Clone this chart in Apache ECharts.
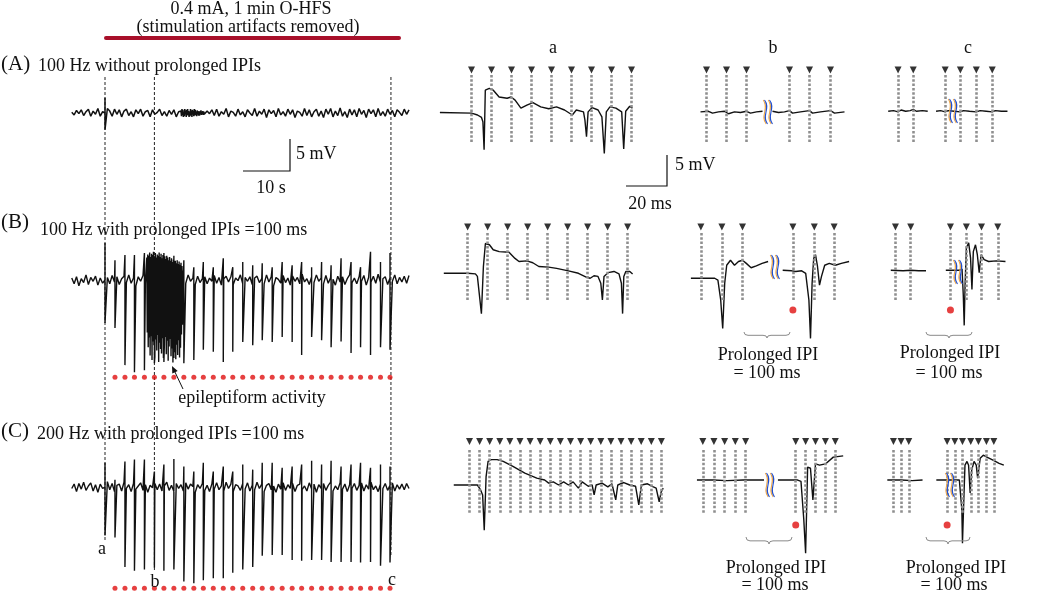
<!DOCTYPE html>
<html>
<head>
<meta charset="utf-8">
<script src="https://cdn.jsdelivr.net/npm/echarts/dist/echarts.min.js"></script>
<style>
  html, body { margin: 0; padding: 0; background: #fff; }
  #chart { width: 1050px; height: 594px; }
</style>
</head>
<body>
<div id="chart"></div>
<script>
// ---- long recordings (left column), mV, noise sampled every 0.5 s from -7 s ----
const noiseA = [
  0.1,-0.3,0.4,-0.1,0.5,-0.4,0.2,0.6,-0.5,0.3,-0.2,0.7,-0.5,0.2,0.0,0.7,0.3,-0.5,0.6,-0.2,
  0.5,-0.6,0.3,0.6,-0.4,0.2,-0.6,0.5,-0.1,0.6,-0.5,0.2,0.4,-0.6,0.5,-0.2,0.1,0.6,-0.4,0.2,
  -0.5,0.4,-0.2,0.5,-0.6,0.2,0.1,-0.4,0.5,-0.2,0.4,-0.7,0.6,-0.3,0.2,0.5,-0.6,0.3,-0.1,0.5,
  -0.4,0.6,-0.5,0.2,-0.2,0.7,-0.6,0.3,0.1,-0.5,0.6,-0.3,0.2,-0.6,0.5,0.0,-0.4,0.7,-0.5,0.3,
  -0.2,0.6,-0.7,0.5,-0.1,0.4,-0.6,0.7,-0.3,0.2,-0.5,0.6,-0.2,0.5,-0.7,0.3,0.1,-0.5,0.7,-0.4,
  0.5,-0.6,0.2,0.6,-0.5,0.3,-0.7,0.6,-0.2,0.7,-0.6,0.3,-0.4,0.8,-0.5,0.2,-0.7,0.6,-0.3,0.5,
  -0.6,0.7,-0.2,0.4,-0.7,0.6,-0.1,0.5,-0.6,0.7,-0.4,0.2,-0.5,0.6,-0.2,0.4,-0.6,0.5,0.1,-0.4,
  0.6,-0.2,0.5
];
const noiseB = [
  0.3,-0.6,0.5,-0.9,0.2,-0.4,0.8,-0.7,0.4,-0.2,0.6,-0.8,0.3,-0.5,0.0,0.4,-0.6,0.7,-0.3,0.5,
  -0.7,0.2,0.6,-0.4,0.8,-0.5,0.3,-0.9,0.5,-0.2,0.7,-0.6,0.4,-0.3,0.9,-0.5,0.2,-0.7,0.6,-0.4,
  0.3,-0.8,0.5,0.1,-0.6,0.7,-0.3,0.4,-0.5,0.8,-0.2,0.3,-0.7,0.6,-0.4,0.2,0.5,-0.6,0.3,-0.2,
  0.7,-0.5,0.4,-0.8,0.2,0.6,-0.3,0.5,-0.7,0.3,-0.1,0.8,-0.6,0.4,-0.2,0.5,-0.7,0.3,0.6,-0.4,
  0.2,-0.6,0.8,-0.3,0.5,-0.9,0.4,0.1,-0.5,0.7,-0.4,0.3,-0.8,0.6,-0.2,0.4,-0.6,0.9,-0.3,0.2,
  -0.7,0.5,-0.4,0.8,-0.2,0.3,-0.6,0.7,-0.5,0.4,0.1,-0.8,0.6,-0.3,0.5,-0.7,0.2,0.8,-0.4,0.3,
  -0.6,0.5,-0.2,0.7,-0.8,0.4,-0.3,0.6,-0.5,0.9,-0.4,0.2,0.5,-0.7,0.3,-0.2,0.8,-0.6,0.4,-0.3,
  0.6,-0.5,0.7
];
const noiseC = [
  -0.2,0.5,-0.7,0.6,-0.3,0.8,-0.5,0.2,0.7,-0.6,0.4,-0.8,0.5,-0.2,0.0,0.9,-0.4,0.6,-0.7,0.3,
  0.5,-0.6,0.8,-0.2,0.4,-0.7,0.6,-0.3,0.2,0.7,-0.5,0.4,-0.8,0.3,-0.1,0.6,-0.4,0.5,-0.6,0.2,
  0.8,-0.5,0.3,-0.7,0.6,-0.2,0.4,-0.6,0.7,-0.3,0.5,0.1,-0.8,0.4,-0.2,0.6,-0.5,0.3,-0.7,0.5,
  -0.3,0.7,-0.4,0.2,-0.6,0.8,-0.2,0.5,-0.7,0.4,0.2,-0.5,0.6,-0.3,0.7,-0.6,0.3,-0.4,0.8,-0.2,
  0.5,-0.7,0.3,0.6,-0.4,0.2,-0.8,0.5,-0.3,0.7,-0.5,0.4,-0.2,0.6,-0.7,0.3,0.5,-0.4,0.2,-0.6,
  0.7,-0.3,0.5,-0.8,0.4,-0.2,0.6,-0.5,0.3,0.8,-0.6,0.2,-0.4,0.7,-0.3,0.5,-0.7,0.4,-0.2,0.6,
  -0.5,0.3,0.7,-0.6,0.4,-0.3,0.8,-0.4,0.2,-0.7,0.5,-0.2,0.6,-0.5,0.3,0.7,-0.6,0.4,-0.3,0.5,
  -0.4,0.6,-0.2
];
// denser noise in (A), every 0.1 s from 16 s
const burstA = [
  0.3,-0.5,0.6,-0.3,0.5,-0.6,0.2,-0.5,0.6,-0.2,0.4,-0.6,0.5,-0.3,0.6,-0.4,0.3,-0.6,0.2,-0.5,
  0.6,-0.3,0.4,-0.6,0.5,-0.2,0.3,-0.5,0.6,-0.4,0.5,-0.3,0.2,-0.5,0.4,-0.2,0.3,-0.4,0.2,-0.4,
  0.3,-0.2,0.4,-0.3,0.2,-0.2,0.3,-0.3,0.2,-0.2,0.1
];
// epileptiform burst in (B), every 0.1 s from 8.8 s
const burstB = [
  3.5,-8.2,4.0,-10.5,3.8,-9.0,4.3,-11.8,3.6,-8.8,4.1,-12.5,3.9,-9.6,4.4,-10.2,3.7,-12.0,4.2,-9.3,
  3.5,-11.0,4.0,-8.6,3.8,-12.8,4.3,-9.8,3.6,-10.8,4.1,-11.5,3.4,-9.1,3.9,-12.2,4.2,-10.0,3.7,-8.9,
  3.3,-11.6,3.8,-9.5,3.5,-12.6,3.1,-10.4,3.6,-9.2,3.0,-11.9,3.4,-10.7,2.8,-12.9,3.2,-9.7,2.7,-11.3,
  3.0,-12.4,2.6,-10.1,3.1,-11.7,2.5,-9.4,2.9,-12.1,2.4,-10.6,2.7,-8.5,2.2,-7.0,1.5
];
// population spikes (s) and their peaks (mV)
const pulseTimes = [0,2.1,4.2,6.2,8.3,10.4,12.4,14.5,16.6,18.7,20.7,22.8,24.9,26.9,29.0,31.1,33.1,35.2,37.3,39.4,41.4,43.5,45.6,47.6,49.7,51.8,53.8,55.9,58.0,60.0];
const upB = [5.8,3.1,3.9,3.9,4.2,4.0,4.1,3.8,3.1,2.0,2.8,2.0,3.4,2.0,2.8,2.3,2.6,2.0,2.8,2.3,2.8,2.0,2.8,2.3,3.4,2.8,2.0,4.4,2.8,4.2];
const downB = [-6.7,-7.5,-13.3,-14.4,-14.1,-13.0,-12.8,-12.2,-13.0,-12.5,-10.9,-11.2,-12.8,-11.2,-9.7,-10.2,-9.4,-9.7,-8.9,-9.7,-11.7,-8.9,-9.4,-10.5,-9.6,-11.4,-10.5,-11.7,-10.5,-10.9];
const upC = [3.9,1.2,4.1,4.4,4.4,2.5,3.6,4.5,3.3,2.5,3.9,2.5,3.3,2.5,3.6,2.8,3.9,3.9,3.1,3.3,3.6,4.2,3.6,4.2,3.3,3.6,3.9,3.1,3.6,3.3];
const downC = [-7.7,-8.0,-12.7,-13.3,-13.1,-12.8,-13.3,-13.1,-15.0,-15.3,-14.8,-14.5,-14.5,-13.6,-13.1,-12.7,-10.9,-10.8,-10.8,-11.6,-11.7,-11.6,-11.6,-11.9,-11.9,-11.9,-12.0,-11.9,-12.5,-12.0];
const guideTimes = [0, 10.4, 60.2];

// ---- expanded traces (right columns), [ms, mV] ----
const stimAa = [0,10,20,30,40,50,60,70,80];
const stimAb = [0,10,20,41.5,51.5,62];
const stimAc = [0,10,31,41,51.5,62];
const stimBa = [0,10,20,30,40,50,60,70,80];
const stimBb = [0,10.5,20.8,46,56.7,66.6];
const stimBc = [0,9.9,35.6,45.9,55.7,66.2];
const stimCa = [0,5,10,15,20,25,30,35,40,45,50,55,60,65,70,75,80,85,90,95];
const stimCb = [0,5.5,10.8,16.1,21.2,46.0,50.9,55.8,60.7,65.6];
const stimCc = [0,4.9,9.8,34.3,39.2,44.1,49.4,54.3,59.4,64.1];

const traceAa = [[-15.8,0],[0,-0.1],[3,-0.4],[5,-0.8],[5.7,-1.5],[6.3,-6.0],[6.9,3.6],[8.9,3.9],[10.9,3.6],[13.8,2.5],[17.8,2.3],[19.8,2.5],[21.8,2.0],[24.7,0.7],[27.7,1.2],[30.7,1.6],[34.6,0.9],[38.6,0.6],[42.5,0.9],[46.5,0.4],[50.4,-0.4],[52.4,0.4],[56.0,0.1],[56.7,-1.2],[57.5,-3.9],[58.3,0.1],[60.3,0.8],[63.3,0.4],[65.2,-0.7],[66.4,-6.6],[67.4,0.1],[69.2,0.9],[72.2,0.7],[75.1,0.1],[76.1,-5.9],[77.1,0.2],[79.1,1.0],[80.5,0.7]];
const traceAbPre = [[-3,0.1],[1,0.2],[3,-0.1],[6,0.1],[9,0.2],[11,-0.2],[14,0.1],[17,0],[20,0.2],[22,-0.1],[25,0.1],[28,0.2]];
const traceAbPost = [[33,0.2],[36,0],[39,0.1],[41.5,0.3],[43,-0.1],[47,0.1],[51.5,0.3],[53,-0.1],[57,0.1],[62,0.3],[64,-0.1],[69,0.1]];
const traceAcPre = [[-6.5,0.2],[-3,0.3],[0,0.1],[2,0.4],[5,0.2],[8,0.3],[10,0.5],[12,0.2],[16,0.3],[19.5,0.2]];
const traceAcPost = [[25,0.2],[28,0.3],[31,0.1],[33,0.3],[37,0.2],[41,0.1],[43,0.3],[47,0.2],[51.5,0.1],[54,0.3],[58,0.2],[62,0.1],[64,0.3],[68,0.2],[72,0.2]];
const traceBa = [[-11.9,0],[0,0],[3.9,-0.1],[4.9,-0.5],[5.9,-0.8],[6.9,-6.5],[7.9,1.1],[8.9,4.8],[10.9,4.6],[12.8,3.8],[15.8,3.5],[20.7,3.4],[23.7,2.4],[25.7,1.9],[29.6,2.0],[32.6,1.7],[35.6,1.1],[40.5,1.0],[44.5,0.8],[50.4,0.4],[55.4,0],[59.3,-0.6],[61.3,-0.8],[63.2,-0.4],[65.2,-0.5],[66.6,-1.6],[67.4,-4.3],[68.2,-0.5],[70.2,0.1],[73.2,0.3],[75.7,-0.1],[76.9,-1.6],[77.5,-6.5],[78.1,-0.5],[79.1,0.3],[81.1,0.3],[82.5,-0.1]];
const traceBbPre = [[-5,-0.8],[6.9,-0.8],[8.5,-1.1],[9.9,-4.3],[10.9,-8.9],[11.9,-1.6],[12.9,1.3],[14.8,2.1],[16.8,1.3],[18.8,1.9],[20.8,2.1],[22.7,1.6],[25.1,0.9],[27.7,1.2],[30.6,1.6],[33.6,1.9]];
const traceBbPost = [[40.9,0.5],[45.4,0.4],[47.4,0.3],[50.4,0.4],[52.4,0],[54.0,-4.3],[54.8,-10.5],[55.6,-1.6],[56.4,2.4],[57.3,3.0],[58.3,1.1],[59.3,-1.9],[60.3,-0.5],[61.9,1.3],[64.2,1.6],[67.2,1.3],[70.2,1.6],[74.1,1.9]];
const traceBcPre = [[-3,0.5],[5,0.4],[10,0.5],[15,0.4],[19.8,0.4]];
const traceBcPost = [[32.6,0.5],[41.5,0.5],[43.1,0.7],[43.9,-3.5],[44.5,-8.4],[45.1,-1.6],[45.9,4.1],[47.4,4.9],[48.6,2.5],[49.5,-2.6],[50.4,3.5],[51.8,4.6],[53.0,3.0],[54.2,0.1],[55.4,3.0],[57.4,2.2],[60.3,1.9],[65.3,2.0],[71.2,1.9]];
const traceCa = [[-7.8,0],[3.9,0],[5.5,-0.8],[6.5,-1.6],[7.3,-7.3],[8.2,1.3],[9.2,3.8],[10.8,4.1],[13.7,4.1],[16.7,3.8],[21.5,3.0],[27.4,1.9],[33.3,1.1],[37.2,0.8],[39.2,0.3],[41.5,0.5],[44.1,0],[46.6,0.5],[49.0,0],[51.3,0.5],[53.9,-0.5],[55.8,0.5],[58.8,-0.2],[60.7,0],[61.7,-1.6],[62.7,0],[65.6,0.3],[68.5,-0.3],[70.5,0.2],[72.4,-2.4],[73.4,0],[76.4,0.4],[79.3,0],[82.2,-0.2],[83.8,-3.2],[85.1,0],[88.1,0.2],[91.0,-0.3],[92.4,-0.5],[93.9,-2.7],[94.9,-1.1],[95.9,-0.5]];
const traceCbPre = [[-2.9,0.8],[5,0.8],[12,0.7],[20,0.8],[30.3,0.8]];
const traceCbPost = [[37.2,0.8],[47.0,0.8],[48.6,0.6],[50.0,-5.6],[50.9,-11.0],[51.9,2.9],[53.3,2.7],[54.5,-2.4],[55.8,3.4],[57.8,3.2],[60.7,3.4],[64.6,4.5],[69.5,4.7]];
const traceCcPre = [[-3.9,0.8],[5,0.8],[12,0.7],[18.6,0.8]];
const traceCcPost = [[27.4,0.8],[42.1,0.8],[43.1,0.6],[43.7,-4.0],[44.1,-9.4],[45.1,-1.3],[45.7,3.2],[47.0,3.8],[48.0,3.2],[49.0,-1.3],[50.0,2.4],[51.5,3.8],[52.9,3.2],[53.8,1.1],[55.4,4.3],[57.4,4.8],[59.7,4.5],[63.6,4.0],[67.5,3.5],[70.5,3.2]];

// ---------------------------------------------------------------
const FONT = '"Liberation Serif", "Times New Roman", serif';
const INK = '#111';
const RED = '#e01010';

const grids = [], xAxes = [], yAxes = [], series = [];

// a grid whose data->pixel mapping is fixed by an origin and a scale
function addFrame(x0, pxX, tmin, tmax, y0, pxY, vmin, vmax, inverse) {
  grids.push({ left: x0 + tmin * pxX, top: inverse ? y0 : y0 - vmax * pxY,
    width: (tmax - tmin) * pxX, height: (vmax - vmin) * pxY });
  const i = grids.length - 1;
  xAxes.push({ type: 'value', gridIndex: i, min: tmin, max: tmax, show: false });
  yAxes.push({ type: 'value', gridIndex: i, min: vmin, max: vmax, inverse: !!inverse, show: false });
  return i;
}

function line(i, data, color, width, extra) {
  return Object.assign({ type: 'line', xAxisIndex: i, yAxisIndex: i, data: data,
    symbol: 'none', showSymbol: false, silent: true, animation: false, z: 3,
    lineStyle: { color: color, width: width } }, extra || {});
}

function dots(i, data, size) {
  return { type: 'scatter', xAxisIndex: i, yAxisIndex: i, data: data, symbolSize: size,
    silent: true, animation: false, z: 4, itemStyle: { color: RED } };
}

// merge noise, dense burst and spikes into one time-ordered trace
function leftTrace(noise, spikeT, up, down, dense, denseStart) {
  let pts = noise.map((v, k) => [-7 + k * 0.5, v]);
  if (dense) {
    const denseEnd = denseStart + (dense.length - 1) * 0.1;
    pts = pts.filter(p => p[0] < denseStart || p[0] > denseEnd);
    dense.forEach((v, k) => pts.push([denseStart + k * 0.1, v]));
  }
  spikeT.forEach((t, k) => { pts.push([t, up[k]]); pts.push([t, down[k]]); });
  pts.sort((a, b) => a[0] - b[0]);
  return pts;
}

// left column
const S_PX = 4.75, MV_L = 6.4, T0_X = 105;
const gA = addFrame(T0_X, S_PX, -8, 66, 113, MV_L, -6, 6);
const gB = addFrame(T0_X, S_PX, -8, 66, 280, MV_L, -17, 6.5);
const gC = addFrame(T0_X, S_PX, -8, 66, 488, MV_L, -17, 6.5);
const gG = addFrame(T0_X, S_PX, -8, 66, 77, 5, 0, 100, true);

series.push(line(gA, leftTrace(noiseA, [0], [2.4], [-2.6], burstA, 16), INK, 1.5));
series.push(line(gB, leftTrace(noiseB, pulseTimes, upB, downB, burstB, 8.8), INK, 1.4));
series.push(line(gC, leftTrace(noiseC, pulseTimes, upC, downC), INK, 1.4));
series.push(dots(gB, pulseTimes.slice(1).map(t => [t, -15.2]), 5));
series.push(dots(gC, pulseTimes.slice(1).map(t => [t, -16.1]), 5));
const guideEnds = [92.6, 99, 95.8];
guideTimes.forEach((t, k) => {
  series.push(line(gG, [[t, 0], [t, guideEnds[k]]], '#000', 1, { z: 2, lineStyle: { color: '#222', width: 1, type: [3, 2] } }));
});

// right columns
const MV_R = 6.2;
const rows = {
  A: { y0: 112.5, ms: 2.0, tri: 6.85, gTop: 6.05, gBot: -4.75, dot: -5.9 },
  B: { y0: 273.3, ms: 2.0, tri: 7.47, gTop: 6.5, gBot: -4.3, dot: -5.9 },
  C: { y0: 485, ms: 2.02, tri: 7.0, gTop: 5.65, gBot: -4.5, dot: -6.45 }
};
const panels = [
  { row: 'A', x0: 471.5, stim: stimAa, segs: [traceAa] },
  { row: 'A', x0: 706.5, stim: stimAb, segs: [traceAbPre, traceAbPost] },
  { row: 'A', x0: 907.7, stim: stimAc, segs: [traceAcPre, traceAcPost] },
  { row: 'B', x0: 467.6, stim: stimBa, segs: [traceBa] },
  { row: 'B', x0: 700.9, stim: stimBb, segs: [traceBbPre, traceBbPost], dotAt: 3 },
  { row: 'B', x0: 904.5, stim: stimBc, segs: [traceBcPre, traceBcPost], dotAt: 2 },
  { row: 'C', x0: 469.5, stim: stimCa, segs: [traceCa] },
  { row: 'C', x0: 702.8, stim: stimCb, segs: [traceCbPre, traceCbPost], dotAt: 5 },
  { row: 'C', x0: 902.5, stim: stimCc, segs: [traceCcPre, traceCcPost], dotAt: 3 }
];
panels.forEach(p => {
  const r = rows[p.row];
  const g = addFrame(p.x0, r.ms, -20, 100, r.y0, MV_R, -13, 9);
  series.push({
    type: 'scatter', xAxisIndex: g, yAxisIndex: g, silent: true, animation: false, z: 2,
    data: p.stim.map(t => [t, r.tri]),
    symbol: 'triangle', symbolRotate: 180, symbolSize: [7, 7], itemStyle: { color: '#000' },
    markLine: {
      silent: true, animation: false, symbol: ['none', 'none'], label: { show: false },
      lineStyle: { color: '#8f8f8f', width: 2.6, type: [2.5, 1.8] },
      data: p.stim.map(t => [{ coord: [t, r.gTop] }, { coord: [t, r.gBot] }])
    }
  });
  p.segs.forEach(d => series.push(line(g, d, INK, 1.4)));
  if (p.dotAt != null) series.push(dots(g, [[p.stim[p.dotAt], r.dot]], 7));
});

// ---- annotations ----
function txt(x, y, s, align, size) {
  const a = align || 'center';
  return { type: 'text', x: x, y: y, silent: true, z: 10,
    style: { text: s, font: (size || 18) + 'px ' + FONT, fill: INK,
      textAlign: a, align: a, textVerticalAlign: 'middle', verticalAlign: 'middle' } };
}
function seg(pts, color, w) {
  return { type: 'polyline', silent: true, z: 10, shape: { points: pts },
    style: { stroke: color, lineWidth: w, fill: null } };
}
function curve(x1, y1, cx1, cy1, cx2, cy2, x2, y2, color, w) {
  const shape = { x1: x1, y1: y1, cpx1: cx1, cpy1: cy1, x2: x2, y2: y2 };
  if (cx2 != null) { shape.cpx2 = cx2; shape.cpy2 = cy2; }
  return { type: 'bezierCurve', silent: true, z: 10, shape: shape,
    style: { stroke: color, lineWidth: w, fill: null } };
}
function brace(xl, xr, yt, yb) {
  const m = (xl + xr) / 2, yc = yt + (yb - yt) * 0.55, c = '#8a8a8a';
  return [
    curve(xl, yt, xl, yc, null, null, xl + 4, yc, c, 1),
    seg([[xl + 4, yc], [m - 4, yc]], c, 1),
    curve(m - 4, yc, m, yc, null, null, m, yb, c, 1),
    curve(m, yb, m, yc, null, null, m + 4, yc, c, 1),
    seg([[m + 4, yc], [xr - 4, yc]], c, 1),
    curve(xr - 4, yc, xr, yc, null, null, xr, yt, c, 1)
  ];
}
function breakMark(cx, cy) {
  const out = [];
  [-2.5, 2.5].forEach(dx => {
    const x = cx + dx;
    [[-0.8, '#f0a848'], [0.5, '#1f4fd0']].forEach(c => {
      const o = c[0];
      out.push(curve(x - 1.5 + o, cy - 12, x + 5 + o, cy - 4, x - 5 + o, cy + 4, x + 1.5 + o, cy + 12, c[1], 1.1));
    });
  });
  return out;
}

const graphic = [
  txt(251, 9, '0.4 mA, 1 min O-HFS'),
  txt(248, 27, '(stimulation artifacts removed)'),
  { type: 'line', silent: true, z: 10, shape: { x1: 106, y1: 38, x2: 399, y2: 38 },
    style: { stroke: '#a8102a', lineWidth: 4, lineCap: 'round' } },
  txt(553, 48, 'a'), txt(773, 48, 'b'), txt(968, 48, 'c'),
  txt(1, 64, '(A)', 'left', 21), txt(38, 66, '100 Hz without prolonged IPIs', 'left'),
  txt(1, 222, '(B)', 'left', 21), txt(40, 230, '100 Hz with prolonged IPIs =100 ms', 'left'),
  txt(1, 431, '(C)', 'left', 21), txt(37, 434, '200 Hz with prolonged IPIs =100 ms', 'left'),
  // scale bars
  seg([[290, 139], [290, 171], [243, 171]], INK, 1.2),
  txt(296, 154, '5 mV', 'left'), txt(271, 188, '10 s'),
  seg([[667, 155], [667, 186], [626, 186]], INK, 1.2),
  txt(675, 165, '5 mV', 'left'), txt(650, 204, '20 ms'),
  // epileptiform arrow
  txt(252, 398, 'epileptiform activity'),
  seg([[183, 389], [174, 370]], INK, 1),
  { type: 'polygon', silent: true, z: 10, shape: { points: [[172, 366], [177.7, 371], [172.3, 373.6]] },
    style: { fill: INK } },
  // column labels of the expanded traces
  txt(102, 549, 'a'), txt(155, 582, 'b'), txt(392, 580, 'c'),
  // prolonged IPI notes
  txt(768, 355, 'Prolonged IPI'), txt(767, 373, '= 100 ms'),
  txt(950, 353, 'Prolonged IPI'), txt(949, 373, '= 100 ms'),
  txt(776, 568, 'Prolonged IPI'), txt(775, 585, '= 100 ms'),
  txt(956, 568, 'Prolonged IPI'), txt(954, 585, '= 100 ms')
].concat(
  brace(744, 790, 332, 338), brace(926, 972, 332, 338),
  brace(746, 792, 537, 544), brace(926, 970, 537, 544),
  breakMark(768, 112), breakMark(953, 111),
  breakMark(775, 267), breakMark(958, 272),
  breakMark(770, 485), breakMark(950, 485)
);

const chart = echarts.init(document.getElementById('chart'), null, { renderer: 'canvas' });
chart.setOption({
  backgroundColor: '#fff',
  animation: false,
  grid: grids,
  xAxis: xAxes,
  yAxis: yAxes,
  series: series,
  graphic: graphic
});
</script>
</body>
</html>
